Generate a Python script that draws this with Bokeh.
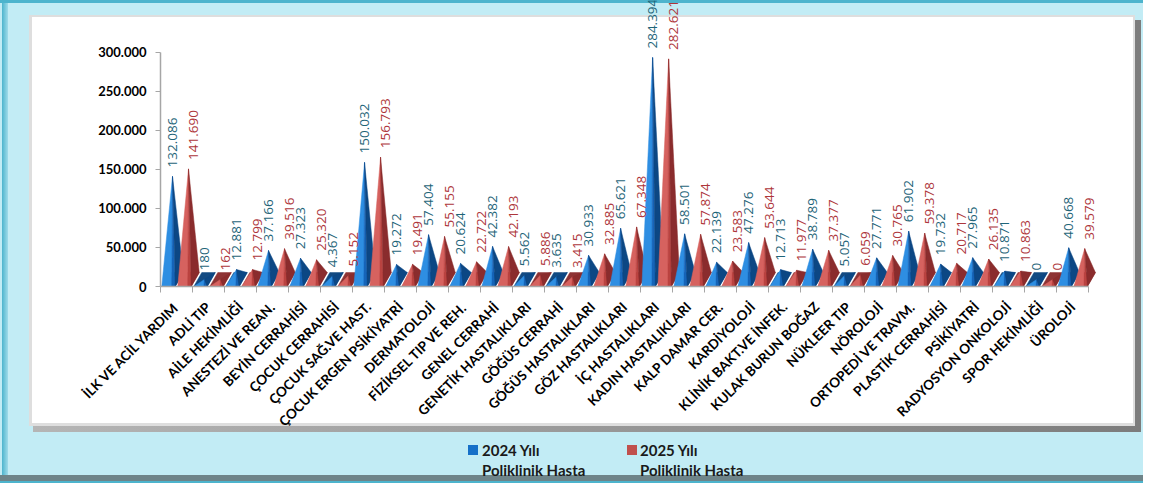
import math
from bokeh.plotting import figure
from bokeh.models import FixedTicker, ColumnDataSource, Range1d, Div
from bokeh.layouts import column
from bokeh.core.properties import value
from bokeh.embed import file_html
from bokeh.resources import INLINE

categories = [
    "İLK VE ACİL YARDIM", "ADLİ TIP", "AİLE HEKİMLİĞİ", "ANESTEZİ VE REAN.",
    "BEYİN CERRAHİSİ", "ÇOCUK CERRAHİSİ", "ÇOCUK SAĞ.VE HAST.", "ÇOCUK ERGEN PSİKİYATRİ",
    "DERMATOLOJİ", "FİZİKSEL TIP VE REH.", "GENEL CERRAHİ", "GENETİK HASTALIKLARI",
    "GÖĞÜS CERRAHİ", "GÖĞÜS HASTALIKLARI", "GÖZ HASTALIKLARI", "İÇ HASTALIKLARI",
    "KADIN HASTALIKLARI", "KALP DAMAR CER.", "KARDİYOLOJİ", "KLİNİK BAKT.VE İNFEK.",
    "KULAK BURUN BOĞAZ", "NÜKLEER TIP", "NÖROLOJİ", "ORTOPEDİ VE TRAVM.",
    "PLASTİK CERRAHİSİ", "PSİKİYATRİ", "RADYOSYON ONKOLOJİ", "SPOR HEKİMLİĞİ", "ÜROLOJİ",
]
hasta_2024 = [132086, 180, 12881, 37166, 27323, 4367, 150032, 19272, 57404, 20624,
              42382, 5562, 3635, 30933, 65621, 284394, 58501, 22139, 47276, 12713,
              38789, 5057, 27771, 61902, 19732, 27965, 10871, 0, 40668]
hasta_2025 = [141690, 162, 12799, 39516, 25320, 5152, 156793, 19491, 55155, 22722,
              42193, 5886, 3415, 32885, 67348, 282621, 57874, 23583, 53644, 11977,
              37377, 6059, 30765, 59378, 20717, 26135, 10863, 0, 39579]
series_line1 = ["2024 Yılı", "2025 Yılı"]
series_line2 = ["Poliklinik Hasta", "Poliklinik Hasta"]
y_ticks = [0, 50000, 100000, 150000, 200000, 250000, 300000]
y_tick_labels = ["0", "50.000", "100.000", "150.000", "200.000", "250.000", "300.000"]


def fmt(v):
    return f"{v:,}".replace(",", ".")


W = 1143
H_FIG = 438
H_LEG = 483 - H_FIG
PX_PER_UNIT = 235 / 300000.0
ZERO_Y = 287
y_end = ZERO_Y / PX_PER_UNIT
n = len(categories)
CAT_PX = (1088 - 160) / n
X_EXTRA = 0.4
frame_right = 1088 + X_EXTRA * CAT_PX

TEAL = "#4DB4CD"
CYAN = "#C2ECF5"
fig_bg = ", ".join([
    "linear-gradient(#ffffff,#ffffff) 32px 17px / 1101px 406px no-repeat",
    "linear-gradient(#dedede,#dedede) 29px 15px / 1106px 411px no-repeat",
    "linear-gradient(90deg,#b5b5b5,#7c7c7c) 33px 20px / 1108px 412px no-repeat",
    f"linear-gradient({TEAL},{TEAL}) 0 0 / 100% 3px no-repeat",
    f"linear-gradient(90deg,{TEAL},#9fdbe9) 2px 0 / 6px 100% no-repeat",
    CYAN,
])

p = figure(width=W, height=H_FIG, output_backend="svg", toolbar_location=None,
           x_range=Range1d(-0.5, n - 0.5 + X_EXTRA), y_range=Range1d(0, y_end),
           min_border_left=160, min_border_right=int(round(W - frame_right)),
           min_border_top=0, min_border_bottom=H_FIG - ZERO_Y,
           background_fill_color=None, border_fill_color=None,
           outline_line_color=None, styles={"background": fig_bg})
p.grid.visible = False

# pyramids (3-D cone look) computed from the values
dy = 14 / PX_PER_UNIT
dx = 0.25
styles = [
    dict(off=(-0.46, -0.04), base="#124A82", fl="#2E8EE2", fr="#1664B8", side="#0C4784"),
    dict(off=(0.04, 0.46), base="#8E3334", fl="#D6625F", fr="#BA4340", side="#8A2C2D"),
]
label_colors = ["#1F6579", "#AE363B"]
xs, ys, cols = [], [], []
lab_x, lab_y, lab_t, lab_c = [], [], [], []
for i in range(n):
    for s, vals in enumerate((hasta_2024, hasta_2025)):
        v = vals[i]
        st = styles[s]
        x0, x1 = i + st["off"][0], i + st["off"][1]
        xm = (x0 + x1) / 2
        ax, ay = xm + dx / 2, v + dy / 2
        xs.append([x0, x1, x1 + dx, x0 + dx]); ys.append([0, 0, dy, dy]); cols.append(st["base"])
        xs.append([x0, ax - 0.02, ax]); ys.append([0, 0, ay]); cols.append(st["fl"])
        xs.append([ax - 0.02, x1, ax]); ys.append([0, 0, ay]); cols.append(st["fr"])
        xs.append([x1, x1 + dx, ax]); ys.append([0, dy, ay]); cols.append(st["side"])
        lab_x.append(ax + (0.15 if s == 1 else 0.0))
        lab_y.append(ay + 9 / PX_PER_UNIT)
        lab_t.append(fmt(v))
        lab_c.append(label_colors[s])

src = ColumnDataSource(dict(xs=xs, ys=ys, c=cols))
p.patches("xs", "ys", source=src, fill_color="c", line_color="c", line_width=0.5)

lsrc = ColumnDataSource(dict(x=lab_x, y=lab_y, t=lab_t, c=lab_c))
p.text("x", "y", text="t", source=lsrc, angle=math.pi / 2, text_align="left",
       text_baseline="middle", text_color="c", text_font=value("Open Sans"),
       text_font_size="13.5px")

# axes
p.yaxis.ticker = FixedTicker(ticks=y_ticks)
p.yaxis.major_label_overrides = dict(zip(y_ticks, y_tick_labels))
p.yaxis.bounds = (0, 300000)
p.yaxis.axis_line_color = "#A6A6A6"
p.yaxis.axis_line_width = 1.5
p.yaxis.major_tick_line_color = "#A6A6A6"
p.yaxis.major_tick_out = 5
p.yaxis.major_tick_in = 0
p.yaxis.minor_tick_line_color = None
p.yaxis.major_label_standoff = 9
p.yaxis.major_label_text_font = "Lato"
p.yaxis.major_label_text_font_style = "bold"
p.yaxis.major_label_text_font_size = "13px"
p.yaxis.major_label_text_color = "#000000"

p.xaxis.ticker = FixedTicker(ticks=list(range(n)), minor_ticks=[i - 0.5 for i in range(n + 1)])
p.xaxis.major_label_overrides = {i: c for i, c in enumerate(categories)}
p.xaxis.major_label_orientation = math.pi / 4
p.xaxis.bounds = (-0.5, n - 0.5)
p.xaxis.axis_line_color = "#A6A6A6"
p.xaxis.axis_line_width = 1.5
p.xaxis.major_tick_line_color = None
p.xaxis.major_tick_out = 6
p.xaxis.major_tick_in = 0
p.xaxis.minor_tick_line_color = "#A6A6A6"
p.xaxis.minor_tick_out = 6
p.xaxis.minor_tick_in = 0
p.xaxis.major_label_standoff = 12
p.xaxis.major_label_text_font = "Lato"
p.xaxis.major_label_text_font_style = "bold"
p.xaxis.major_label_text_font_size = "13.5px"
p.xaxis.major_label_text_color = "#000000"

# legend (HTML text below the chart panel)
leg_sq = [468, 627]
leg_tx = [482, 640]
leg_c = ["#1670C8", "#C0504D"]
top0 = 445 - H_FIG
parts = []
for k in range(2):
    parts.append(f'<span style="position:absolute;left:{leg_sq[k]}px;top:{top0}px;'
                 f'width:10px;height:10px;background:{leg_c[k]}"></span>')
    parts.append(f'<span style="position:absolute;left:{leg_tx[k]}px;top:{top0 - 5}px;'
                 f'line-height:20px;white-space:nowrap">{series_line1[k]}</span>')
    parts.append(f'<span style="position:absolute;left:{leg_tx[k]}px;top:{top0 + 15}px;'
                 f'line-height:20px;white-space:nowrap">{series_line2[k]}</span>')
leg_html = (f'<div style="position:relative;width:{W}px;height:{H_LEG}px;'
            'font-family:Lato;font-weight:bold;font-size:15px;color:#1a1a1a">'
            + "".join(parts) + "</div>")
leg_bg = ", ".join([
    f"linear-gradient({TEAL},{TEAL}) 0 {H_LEG - 2}px / 100% 2px no-repeat",
    f"linear-gradient(#6E8489,#6E8489) 0 {H_LEG - 8}px / 100% 6px no-repeat",
    f"linear-gradient(90deg,{TEAL},#9fdbe9) 2px 0 / 6px 100% no-repeat",
    CYAN,
])
legend_div = Div(text=leg_html, width=W, height=H_LEG,
                 styles={"background": leg_bg, "margin": "0", "padding": "0"})

layout = column(p, legend_div, spacing=0)
open("out.html", "w").write(file_html(layout, INLINE))
